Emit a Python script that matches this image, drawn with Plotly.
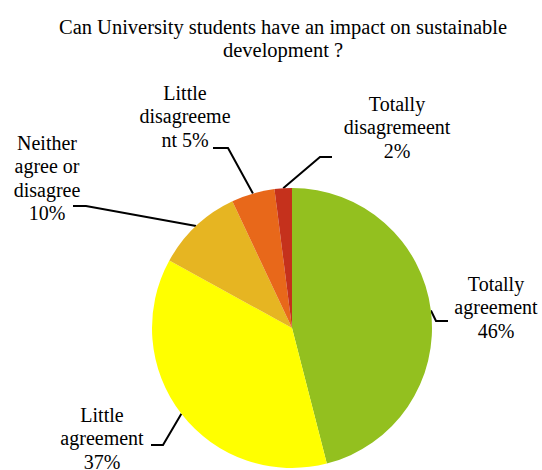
import math
import plotly.graph_objects as go

# ---- data ----
categories = ["Totally agreement", "Little agreement", "Neither agree or disagree",
              "Little disagreement", "Totally disagreement"]
values = [46, 37, 10, 5, 2]
label_texts = ["Totally<br>agreement<br>46%",
               "Little<br>agreement<br>37%",
               "Neither<br>agree or<br>disagree<br>10%",
               "Little<br>disagreeme<br>nt 5%",
               "Totally<br>disagremeent<br>2%"]
colors = ["#93C01F", "#FFFF00", "#E6B522", "#E8681A", "#C5311C"]
title_lines = ["Can University students have an impact on sustainable", "development ?"]

# ---- layout constants (pixels) ----
W, H = 542, 470
CX, CY, R = 292, 328, 140
FONT = "Liberation Serif"
FS = 20
TITLE_FS = 20.5
LINE_H = 23.5
label_pos = [(496, 285.5), (102, 416.5), (47, 144.5), (185, 94.5), (397, 105.5)]
elbows = [((436, 321), (448, 321)),
          ((163, 445), (151, 445)),
          ((86, 206), (73, 206)),
          ((228, 148), (213, 148)),
          ((320, 157), (332, 157))]

fig = go.Figure()
fig.add_trace(go.Pie(
    labels=categories, values=values, sort=False, direction="clockwise", rotation=0,
    marker=dict(colors=colors, line=dict(width=0)),
    textinfo="none", hoverinfo="label+percent", showlegend=False,
    domain=dict(x=[(CX - R) / W, (CX + R) / W], y=[1 - (CY + R) / H, 1 - (CY - R) / H]),
))

total = sum(values)
cum = 0
tx, ty, tt = [], [], []
for i, v in enumerate(values):
    mid = (cum + v / 2) / total * 2 * math.pi
    cum += v
    sx = CX + R * math.sin(mid)
    sy = CY - R * math.cos(mid)
    (ex, ey), (fx, fy) = elbows[i]
    fig.add_trace(go.Scatter(x=[sx, ex, fx], y=[sy, ey, fy], mode="lines",
                             line=dict(color="black", width=2), hoverinfo="skip",
                             showlegend=False))
    lx, ly = label_pos[i]
    for j, line in enumerate(label_texts[i].split("<br>")):
        tx.append(lx); ty.append(ly + j * LINE_H); tt.append(line)

fig.add_trace(go.Scatter(x=tx, y=ty, text=tt, mode="text", textposition="middle center",
                         textfont=dict(family=FONT, size=FS, color="black"),
                         hoverinfo="skip", showlegend=False, cliponaxis=False))

fig.add_trace(go.Scatter(x=[283, 283], y=[28.5, 28.5 + LINE_H], text=title_lines, mode="text",
                         textposition="middle center",
                         textfont=dict(family=FONT, size=TITLE_FS, color="black"),
                         hoverinfo="skip", showlegend=False, cliponaxis=False))

fig.update_layout(
    width=W, height=H, margin=dict(l=0, r=0, t=0, b=0),
    font=dict(family=FONT, size=FS, color="black"),
    paper_bgcolor="white", plot_bgcolor="rgba(0,0,0,0)",
    xaxis=dict(range=[0, W], visible=False, fixedrange=True),
    yaxis=dict(range=[H, 0], visible=False, fixedrange=True),
)
fig.write_html("out.html")
